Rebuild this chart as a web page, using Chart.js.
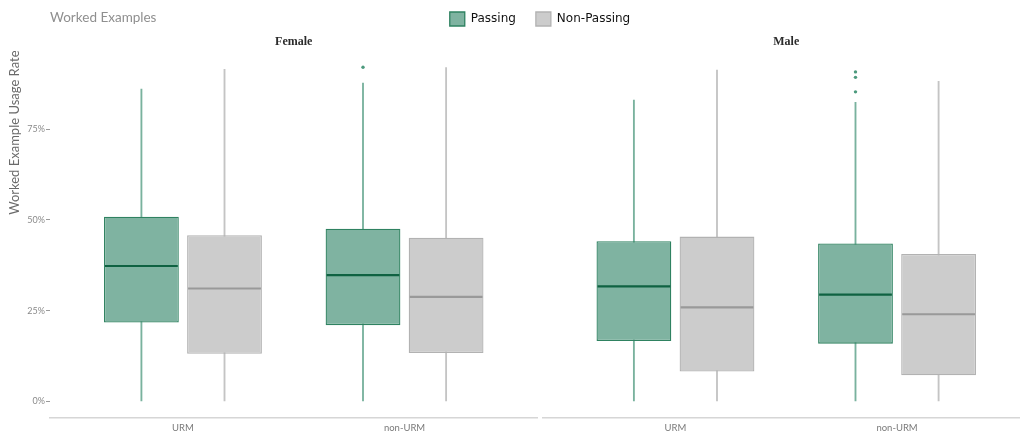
<!DOCTYPE html>
<html>
<head>
<meta charset="utf-8">
<script src="https://cdn.jsdelivr.net/npm/chart.js@4"></script>
<style>
  html, body { margin: 0; padding: 0; background: #ffffff; overflow: hidden; }
  #wrap { position: relative; width: 1034px; height: 436px; }
</style>
</head>
<body>
<div id="wrap"><canvas id="c"></canvas></div>
<script>
// ---------- data ----------
const chartTitle = 'Worked Examples';
const yAxisTitle = 'Worked Example Usage Rate';
const panels = ['Female', 'Male'];
const categories = ['URM', 'non-URM'];
const seriesNames = ['Passing', 'Non-Passing'];
const yTicks = [0, 25, 50, 75];

// five-number summaries per category: [min, q1, median, q3, max] (percent)
const femalePassing    = [[0, 21.7, 37.3, 50.9, 86.1], [0, 21.0, 34.8, 47.6, 87.7]];
const femaleNonPassing = [[0, 13.1, 31.1, 45.8, 91.5], [0, 13.3, 28.8, 45.1, 92.0]];
const malePassing      = [[0, 16.6, 31.7, 44.1, 83.0], [0, 15.9, 29.4, 43.5, 82.4]];
const maleNonPassing   = [[0,  8.2, 25.9, 45.4, 91.3], [0,  7.2, 24.0, 40.6, 88.2]];

// outliers per category (percent)
const femalePassingOutliers    = [[], [92.1]];
const femaleNonPassingOutliers = [[], []];
const malePassingOutliers      = [[], [90.8, 89.3, 85.3]];
const maleNonPassingOutliers   = [[], []];

// ---------- styling ----------
const styles = [
  { fill: '#7fb3a1', border: '#2f8261', median: '#0f6242', whisker: '#79b29e', point: '#4c9a7d' },
  { fill: '#cccccc', border: '#b2b2b2', median: '#999999', whisker: '#c4c4c4', point: '#aaaaaa' }
];
const DODGE = 0.1875;
const panelData = [
  { axis: 'x0', boxes: [femalePassing, femaleNonPassing], outliers: [femalePassingOutliers, femaleNonPassingOutliers] },
  { axis: 'x1', boxes: [malePassing, maleNonPassing], outliers: [malePassingOutliers, maleNonPassingOutliers] }
];

const datasets = [];
const legendIdx = [];
panelData.forEach((p, pi) => {
  p.boxes.forEach((stats, si) => {
    const off = si === 0 ? -DODGE : DODGE;
    const st = styles[si];
    datasets.push({
      type: 'bar', label: seriesNames[si] + ' whisker', xAxisID: p.axis, yAxisID: 'y',
      data: stats.map((s, ci) => ({ x: ci + 1 + off, y: [s[0], s[4]] })),
      backgroundColor: st.whisker, borderWidth: 0, barThickness: 1.2,
      grouped: false, order: 3
    });
    if (pi === 0) legendIdx.push(datasets.length);
    datasets.push({
      type: 'bar', label: seriesNames[si], xAxisID: p.axis, yAxisID: 'y',
      data: stats.map((s, ci) => ({ x: ci + 1 + off, y: [s[1], s[3]] })),
      medians: stats.map(s => s[2]), medianColor: st.median,
      backgroundColor: st.fill, borderColor: st.border, borderWidth: 1.3, borderSkipped: false,
      grouped: false, categoryPercentage: 1, barPercentage: 0.9, order: 2
    });
    const pts = [];
    p.outliers[si].forEach((vals, ci) => vals.forEach(v => pts.push({ x: ci + 1 + off, y: v })));
    datasets.push({
      type: 'scatter', label: seriesNames[si] + ' outliers', xAxisID: p.axis, yAxisID: 'y',
      data: pts, pointRadius: 1.7, pointBackgroundColor: st.point, pointBorderWidth: 0, order: 0
    });
  });
});

const medianPlugin = {
  id: 'medians',
  afterDatasetsDraw(chart) {
    const ctx = chart.ctx;
    chart.data.datasets.forEach((ds, di) => {
      if (!ds.medians) return;
      const meta = chart.getDatasetMeta(di);
      const ys = chart.scales[meta.yAxisID];
      meta.data.forEach((bar, i) => {
        const { x, width } = bar.getProps(['x', 'width'], true);
        const y = ys.getPixelForValue(ds.medians[i]);
        ctx.save();
        ctx.strokeStyle = ds.medianColor;
        ctx.lineWidth = 2.2;
        ctx.beginPath();
        ctx.moveTo(x - width / 2 + 1, y);
        ctx.lineTo(x + width / 2 - 1, y);
        ctx.stroke();
        ctx.restore();
      });
    });
  }
};

// figure title, written at the left edge of the plotting area on the legend row
const headerTitlePlugin = {
  id: 'headerTitle',
  afterDraw(chart) {
    const ctx = chart.ctx;
    ctx.save();
    ctx.font = '13.5px Lato, "Open Sans", sans-serif';
    ctx.fillStyle = '#8f8f8f';
    ctx.textAlign = 'left';
    ctx.textBaseline = 'middle';
    ctx.fillText(chartTitle, chart.chartArea.left, 18);
    ctx.restore();
  }
};

const tickFont = { family: 'Lato, "Open Sans", sans-serif', size: 9.5 };
const PANEL_W = 489, GAP_W = 5;

function bottomAxis(weight, labelled) {
  return {
    type: 'linear', position: 'bottom', stack: 'bottom', stackWeight: weight,
    min: 0.4, max: 2.6, offset: false, bounds: 'data',
    afterBuildTicks: s => { s.ticks = labelled ? categories.map((c, i) => ({ value: i + 1 })) : []; },
    afterFit: s => { s.height = 18; },
    ticks: { display: labelled, autoSkip: false, maxRotation: 0, padding: 4, font: tickFont, color: '#7a7a7a',
             callback: v => categories[v - 1] },
    grid: { display: false, drawTicks: false, offset: false },
    border: { display: labelled, color: '#d6d6d6', width: 1.5 }
  };
}
function topAxis(weight, text) {
  return {
    type: 'linear', position: 'top', stack: 'top', stackWeight: weight, offset: false,
    afterFit: s => { s.height = 14.5; },
    ticks: { display: false },
    grid: { display: false, drawTicks: false },
    border: { display: false },
    title: { display: !!text, text: text || '', padding: 0, color: '#2b2b2b',
             font: { family: '"Liberation Serif", "DejaVu Serif", serif', size: 12, weight: 'bold', lineHeight: 1.0 } }
  };
}

new Chart(document.getElementById('c'), {
  type: 'bar',
  data: { datasets },
  plugins: [medianPlugin, headerTitlePlugin],
  options: {
    responsive: true,
    maintainAspectRatio: false,
    animation: false,
    events: [],
    layout: { padding: { left: 0, right: 2, top: -8, bottom: 0 } },
    plugins: {
      tooltip: { enabled: false },
      title: { display: false },
      legend: {
        display: true, position: 'top', fullSize: false,
        labels: {
          boxWidth: 15, boxHeight: 14, padding: 20, color: '#111111',
          font: { family: '"DejaVu Sans", sans-serif', size: 12 },
          filter: item => legendIdx.includes(item.datasetIndex)
        }
      }
    },
    scales: {
      y: {
        type: 'linear', position: 'left', min: -4.6, max: 96.7,
        afterBuildTicks: s => { s.ticks = yTicks.map(v => ({ value: v })); },
        afterFit: s => { s.width = 50; },
        ticks: { callback: v => v + '%', font: { family: 'Lato, "Open Sans", sans-serif', size: 9 }, color: '#8a8a8a', padding: 1 },
        grid: { display: true, drawOnChartArea: false, drawTicks: true, tickLength: 4, color: '#9a9a9a', lineWidth: 1 },
        border: { display: false },
        title: { display: true, text: yAxisTitle, align: 'end', color: '#6a6a6a',
                 font: { family: 'Lato, "Open Sans", sans-serif', size: 13, lineHeight: 1.2 }, padding: { top: 7, bottom: 0 } }
      },
      x0: bottomAxis(PANEL_W, true),
      xg: bottomAxis(GAP_W, false),
      x1: bottomAxis(PANEL_W, true),
      // top boxes are laid out in reverse order, so the right-hand strip is declared first
      t1: topAxis(PANEL_W, panels[1]),
      tg: topAxis(GAP_W, ''),
      t0: topAxis(PANEL_W, panels[0])
    }
  }
});
</script>
</body>
</html>
